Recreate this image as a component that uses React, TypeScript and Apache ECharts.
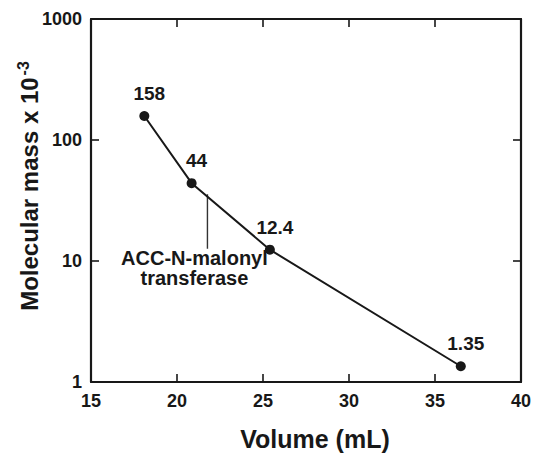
import React, { useEffect, useRef } from "react";
import * as echarts from "echarts";

const volumes = [18.1, 20.85, 25.4, 36.5];
const masses = [158, 44, 12.4, 1.35];
const massLabels = ["158", "44", "12.4", "1.35"];
const xTicks = [15, 20, 25, 30, 35, 40];
const yTicks = [1, 10, 100, 1000];
const annotX = [21.77, 21.77];
const annotY = [35.6, 12.6];
const annotText = "ACC-N-malonyl\ntransferase";

const FONT = "'Liberation Sans', Arial, Helvetica, sans-serif";
const INK = "#181818";

export default function App() {
  const ref = useRef<HTMLDivElement>(null);
  useEffect(() => {
    if (!ref.current) return;
    const chart = echarts.init(ref.current, null, { renderer: "svg" });
    const axisCommon = {
      axisLine: { show: true, lineStyle: { color: INK, width: 2.2 } },
      axisTick: { show: true, inside: true, length: 8, lineStyle: { color: INK, width: 1.6 } },
      splitLine: { show: false },
    };
    const xAxisBase = {
      type: "value",
      min: xTicks[0],
      max: xTicks[xTicks.length - 1],
      interval: 5,
      ...axisCommon,
    };
    const yAxisBase = {
      type: "log",
      logBase: 10,
      min: yTicks[0],
      max: yTicks[yTicks.length - 1],
      ...axisCommon,
    };
    chart.setOption({
      animation: false,
      backgroundColor: "#ffffff",
      grid: { left: 91, right: 12, top: 19, bottom: 61, containLabel: false },
      xAxis: [
        {
          ...xAxisBase,
          position: "bottom",
          name: "Volume (mL)",
          nameLocation: "middle",
          nameGap: 44,
          nameTextStyle: { fontFamily: FONT, fontWeight: "bold", fontSize: 25, color: INK, padding: [0, 0, 0, 18] },
          axisLabel: {
            show: true,
            margin: 10,
            fontFamily: FONT,
            fontWeight: "bold",
            fontSize: 18,
            color: INK,
            formatter: (v: number) => String(v),
          },
        },
        {
          ...xAxisBase,
          position: "top",
          axisLabel: { show: false },
        },
      ],
      yAxis: [
        {
          ...yAxisBase,
          position: "left",
          axisLabel: {
            show: true,
            margin: 9,
            fontFamily: FONT,
            fontWeight: "bold",
            fontSize: 18,
            color: INK,
            formatter: (v: number) => String(Math.round(v)),
          },
        },
        {
          ...yAxisBase,
          position: "right",
          axisLabel: { show: false },
        },
      ],
      graphic: [
        {
          type: "text",
          x: 29,
          y: 186,
          rotation: Math.PI / 2,
          style: {
            text: "{a|Molecular mass x 10}{b|-3}",
            align: "center",
            verticalAlign: "middle",
            fill: INK,
            rich: {
              a: { fontFamily: FONT, fontWeight: "bold", fontSize: 24, fill: INK, color: INK },
              b: { fontFamily: FONT, fontWeight: "bold", fontSize: 16, fill: INK, color: INK, padding: [0, 0, 12, 2] },
            },
          },
        },
      ],
      series: [
        {
          type: "line",
          xAxisIndex: 0,
          yAxisIndex: 0,
          data: volumes.map((v, i) => ({
            value: [v, masses[i]],
            label: {
              show: true,
              formatter: massLabels[i],
            },
          })),
          symbol: "circle",
          symbolSize: 10,
          itemStyle: { color: INK },
          lineStyle: { color: INK, width: 2 },
          label: {
            show: true,
            position: "top",
            distance: 8,
            offset: [5, 0],
            fontFamily: FONT,
            fontWeight: "bold",
            fontSize: 19,
            color: INK,
          },
          z: 3,
        },
        {
          type: "line",
          xAxisIndex: 0,
          yAxisIndex: 0,
          data: [
            { value: [annotX[0], annotY[0]], label: { show: false } },
            {
              value: [annotX[1], annotY[1]],
              label: {
                show: true,
                position: "bottom",
                distance: -1,
                offset: [-13, 0],
                formatter: annotText,
                fontFamily: FONT,
                fontWeight: "bold",
                fontSize: 20,
                lineHeight: 20,
                color: INK,
                align: "center",
              },
            },
          ],
          symbol: "circle",
          symbolSize: 0,
          itemStyle: { color: INK },
          lineStyle: { color: "#333", width: 1.4 },
          z: 2,
        },
      ],
    });
    return () => chart.dispose();
  }, []);
  return (
    <div
      ref={ref}
      style={{ position: "fixed", left: 0, top: 0, width: 534, height: 456, background: "#fff" }}
    />
  );
}
